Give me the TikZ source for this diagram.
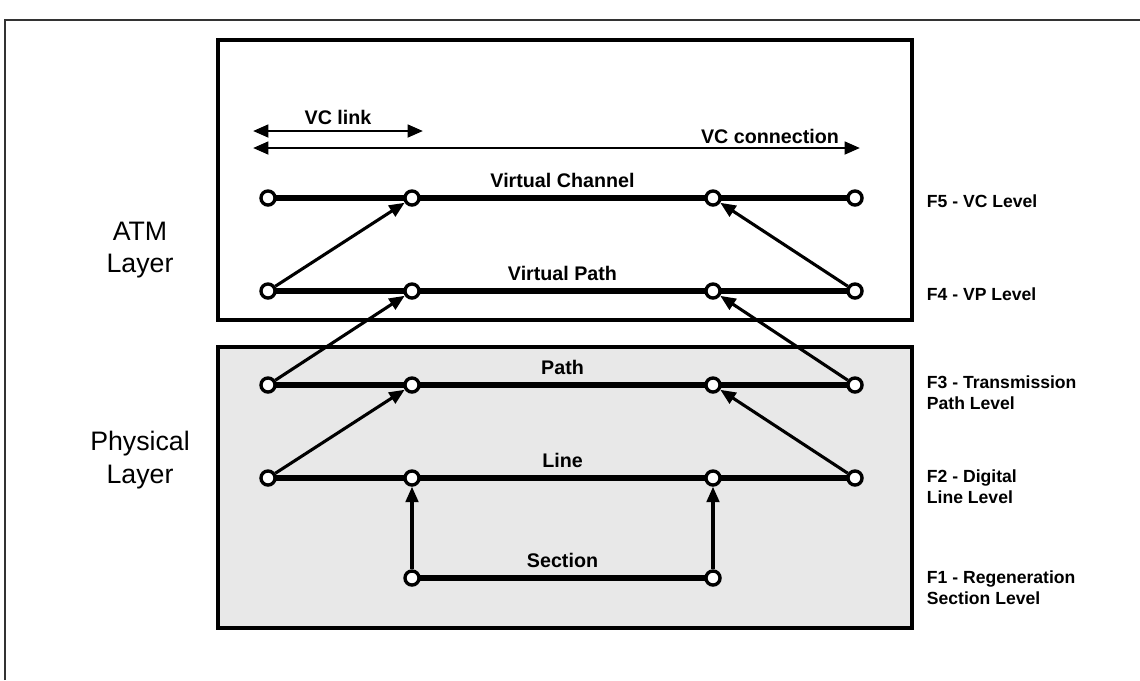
\documentclass[tikz,border=0pt]{standalone}
\usepackage{fontspec}
\setmainfont{Liberation Sans}
\usetikzlibrary{arrows.meta}

\tikzset{
  port/.style={circle, draw, line width=2.4pt, fill=white, inner sep=0pt, minimum size=10pt},
  level/.style={line width=4.2pt},
  oam/.style={line width=2.2pt, -{Triangle[length=11pt,width=9pt]}},
  span/.style={line width=2pt, {Triangle[length=11pt,width=9pt]}-{Triangle[length=11pt,width=9pt]}},
  layerbox/.style={line width=2.4pt},
  lvl/.style={font=\bfseries\fontsize{12.5}{15}\selectfont, anchor=west, align=left},
  tag/.style={font=\bfseries\fontsize{14}{16}\selectfont}
}

\begin{document}
\begin{tikzpicture}[x=0.025cm, y=-0.025cm]
    \useasboundingbox (0,0) rectangle (1140,680);
    % outer frame
    \draw[line width=1.5pt, black!80] (5,680) -- (5,20) -- (1140,20);
    % layer boxes
    \draw[layerbox] (218,40) rectangle (912,320);
    \draw[layerbox, fill=black!9] (218,347) rectangle (912,628);
    \node[font=\fontsize{19}{23}\selectfont, align=center] (atm) at (140,250) {ATM\\Layer};
    \node[font=\fontsize{19}{23}\selectfont, align=center] (phy) at (140,460) {Physical\\Layer};
    % end points of each level
    \foreach \row/\y in {vc/198, vp/291, tp/385, dl/478}
      \foreach \col/\x in {a/268, b/412, c/713, d/855}
        \coordinate (\row\col) at (\x,\y);
    \coordinate (rsb) at (412,578);
    \coordinate (rsc) at (713,578);
    % levels
    \draw[level] (vca) -- (vcb) -- node[tag, above=2pt]{Virtual Channel} (vcc) -- (vcd);
    \draw[level] (vpa) -- (vpb) -- node[tag, above=2pt]{Virtual Path} (vpc) -- (vpd);
    \draw[level] (tpa) -- (tpb) -- node[tag, above=2pt]{Path} (tpc) -- (tpd);
    \draw[level] (dla) -- (dlb) -- node[tag, above=2pt]{Line} (dlc) -- (dld);
    \draw[level] (rsb) -- node[tag, above=2pt]{Section} (rsc);
    \foreach \p in {vca,vcb,vcc,vcd,vpa,vpb,vpc,vpd,tpa,tpb,tpc,tpd,dla,dlb,dlc,dld,rsb,rsc}
      \node[port] (n\p) at (\p) {};
    % flows between levels
    \draw[oam] (nvpa) -- (nvcb);
    \draw[oam] (ntpa) -- (nvpb);
    \draw[oam] (ndla) -- (ntpb);
    \draw[oam] (nvpd) -- (nvcc);
    \draw[oam] (ntpd) -- (nvpc);
    \draw[oam] (ndld) -- (ntpc);
    \draw[oam] (nrsb) -- (ndlb);
    \draw[oam] (nrsc) -- (ndlc);
    % spans
    \coordinate (lkl) at (253,131);
    \coordinate (lkr) at (423,131);
    \coordinate (cnl) at (253,148);
    \coordinate (cnr) at (860,148);
    \draw[span] (lkl) -- node[tag, above=0pt]{VC link} (lkr);
    \draw[span] (cnl) -- (cnr);
    \node[tag] (cnlab) at (770,136) {VC connection};
    % level names
    \node[lvl] (f5) at (922,201) {F5 - VC Level};
    \node[lvl] (f4) at (922,294) {F4 - VP Level};
    \node[lvl] (f3) at (922,393) {F3 - Transmission\\Path Level};
    \node[lvl] (f2) at (922,487) {F2 - Digital\\Line Level};
    \node[lvl] (f1) at (922,588) {F1 - Regeneration\\Section Level};
\end{tikzpicture}
\end{document}
